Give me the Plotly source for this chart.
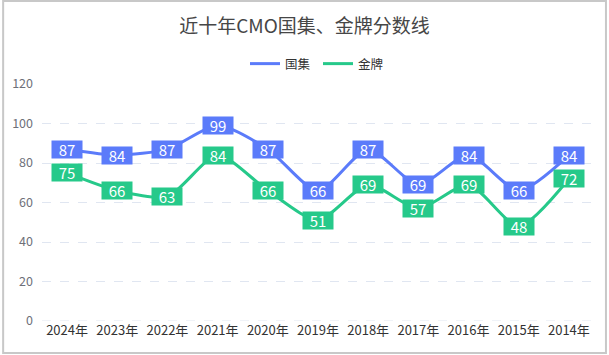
import plotly.graph_objects as go

years = ["2024年", "2023年", "2022年", "2021年", "2020年", "2019年",
         "2018年", "2017年", "2016年", "2015年", "2014年"]
guoji = [87, 84, 87, 99, 87, 66, 87, 69, 84, 66, 84]
jinpai = [75, 66, 63, 84, 66, 51, 69, 57, 69, 48, 72]
series_names = ["国集", "金牌"]
colors = ["#5B7BFA", "#26C98A"]

W, H = 609, 355
ML, MR, MT, MB = 40, 15, 84, 34
PW, PH = W - ML - MR, H - MT - MB

fig = go.Figure()
annotations = []
for name, vals, col in zip(series_names, [guoji, jinpai], colors):
    fig.add_trace(go.Scatter(
        x=years, y=vals, name=name, mode="lines",
        line=dict(color=col, width=3, shape="spline", smoothing=0.7),
        hoverinfo="x+y",
    ))
    for xv, yv in zip(years, vals):
        annotations.append(dict(
            x=xv, y=yv, xref="x", yref="y", text=str(yv), showarrow=False,
            bgcolor=col, font=dict(color="white", size=15, family="Noto Sans CJK SC"),
            width=28, height=15, borderpad=1, align="center", valign="middle",
        ))

fig.update_layout(
    width=W, height=H,
    margin=dict(l=ML, r=MR, t=MT, b=MB, pad=0),
    paper_bgcolor="white", plot_bgcolor="white",
    font=dict(family="Noto Sans CJK SC", color="#333"),
    title=dict(text="近十年CMO国集、金牌分数线", x=0.5, xanchor="center",
               y=1 - 26 / H, yanchor="middle", yref="container",
               font=dict(size=19, color="#464646")),
    legend=dict(orientation="h", x=0.5, xanchor="center",
                y=(PH + MT - 64) / PH, yanchor="middle",
                font=dict(size=12.5, color="#333"), itemwidth=30,
                entrywidth=28, entrywidthmode="pixels",
                tracegroupgap=0, bgcolor="rgba(0,0,0,0)"),
    xaxis=dict(type="category", showgrid=False, showline=False, ticks="",
               tickfont=dict(size=13, color="#333"), range=[-0.5, 10.5],
               fixedrange=True),
    yaxis=dict(range=[0, 120], dtick=20, showgrid=True, gridcolor="#E0E6F1",
               griddash="dash", gridwidth=1, zeroline=False, showline=False,
               ticks="", tickfont=dict(size=12.5, color="#6E7079"),
               ticklabelstandoff=8, fixedrange=True),
    annotations=annotations,
    shapes=[
        dict(type="line", xref="paper", yref="y", x0=0, x1=1, y0=0, y1=0,
             line=dict(color="#E0E6F1", width=1, dash="dash"), layer="below"),
        dict(type="rect", xref="paper", yref="paper",
             x0=(1 - ML) / PW, x1=(606 - ML) / PW,
             y0=(H - MB - 353) / PH, y1=(H - MB - 1) / PH,
             line=dict(color="#C8C8C8", width=2), layer="below"),
    ],
    showlegend=True,
)

fig.write_html("out.html", config={"displayModeBar": False},
               post_script="document.body.style.margin='0';document.body.style.overflow='hidden';")
